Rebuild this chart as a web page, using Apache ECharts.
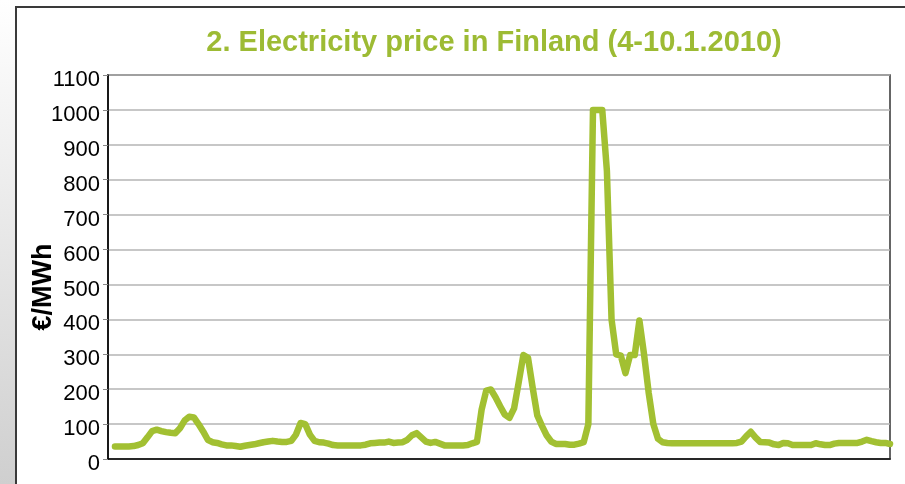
<!DOCTYPE html>
<html>
<head>
<meta charset="utf-8">
<script src="https://cdn.jsdelivr.net/npm/echarts@6/dist/echarts.min.js"></script>
<style>html,body{margin:0;padding:0;background:#fff;}#c{width:905px;height:484px;}</style>
</head>
<body>
<div id="c"></div>
<script>
var title = '2. Electricity price in Finland (4-10.1.2010)';
var yName = '€/MWh';
var yTicks = [0,100,200,300,400,500,600,700,800,900,1000,1100];
// hourly prices, 4-10.1.2010 (168 hours)
var prices = [
 36,36,36,36,37,40,45,62,80,84,80,77,75,74,88,110,121,119,100,79,55,48,46,42,
 39,39,37,35,38,40,42,45,48,50,52,50,49,49,52,70,103,100,70,52,48,47,44,40,
 39,39,39,39,39,39,41,45,46,47,47,50,46,47,48,55,68,74,62,50,46,49,44,39,
 39,39,39,39,40,45,49,141,196,199,177,151,127,118,145,220,298,290,205,125,95,68,50,43,
 43,43,41,41,44,48,100,1000,1000,1000,825,400,300,296,246,298,298,397,300,190,100,58,48,46,
 45,45,45,45,45,45,45,45,45,45,45,45,45,45,46,50,65,78,62,49,48,47,42,40,
 46,45,40,40,40,40,40,45,42,40,40,44,46,46,46,46,46,50,55,51,48,46,46,43
];
var hours = prices.map(function(_, i){ return i; });
var seriesData = hours.map(function(h, i){ return [h, prices[i]]; });

var chart = echarts.init(document.getElementById('c'));
chart.setOption({
  animation: false,
  backgroundColor: '#fff',
  graphic: [
    { type: 'rect', shape: { x: 0, y: 0, width: 15, height: 484 }, silent: true,
      style: { fill: new echarts.graphic.LinearGradient(0, 0, 0, 1, [
        { offset: 0, color: '#ffffff' }, { offset: 1, color: '#cfcfcf' }]) } },
    { type: 'rect', shape: { x: 16, y: 7, width: 1000, height: 600 }, silent: true,
      style: { fill: 'none', stroke: '#3a3a3a', lineWidth: 2 } },
    { type: 'text', x: 494, y: 43, silent: true,
      style: { text: title, align: 'center', verticalAlign: 'middle',
        font: 'bold 29px "Liberation Sans", Arial, sans-serif', fill: '#9dbb34' } },
    { type: 'text', x: 44, y: 287, rotation: Math.PI / 2, silent: true,
      style: { text: yName, align: 'center', verticalAlign: 'middle',
        font: 'bold 27px "Liberation Sans", Arial, sans-serif', fill: '#000' } }
  ],
  grid: { left: 108, top: 75, width: 782, height: 384, show: true, borderColor: '#333', borderWidth: 1.5, backgroundColor: '#fff' },
  xAxis: {
    type: 'value', min: -1.5, max: hours[hours.length - 1],
    axisLine: { show: true, onZero: false, lineStyle: { color: '#000', width: 1.5 } },
    axisTick: { show: false }, axisLabel: { show: false }, splitLine: { show: false }
  },
  yAxis: {
    type: 'value', min: yTicks[0], max: yTicks[yTicks.length - 1], interval: 100,
    axisLine: { show: true, onZero: false, lineStyle: { color: '#000', width: 1.5 } },
    axisTick: { show: true, length: 5, lineStyle: { color: '#888' } },
    axisLabel: { fontFamily: 'Liberation Sans', fontSize: 22, color: '#000', margin: 8,
      verticalAlign: 'top', lineHeight: 10,
      formatter: function(v){ return String(v); } },
    splitLine: { show: true, lineStyle: { color: '#b4b4b4', width: 1.5 } }
  },
  series: [{
    type: 'line', data: seriesData, showSymbol: false, symbol: 'none',
    lineStyle: { color: '#a2c032', width: 6.5, cap: 'round', join: 'round' }
  }]
});
</script>
</body>
</html>
